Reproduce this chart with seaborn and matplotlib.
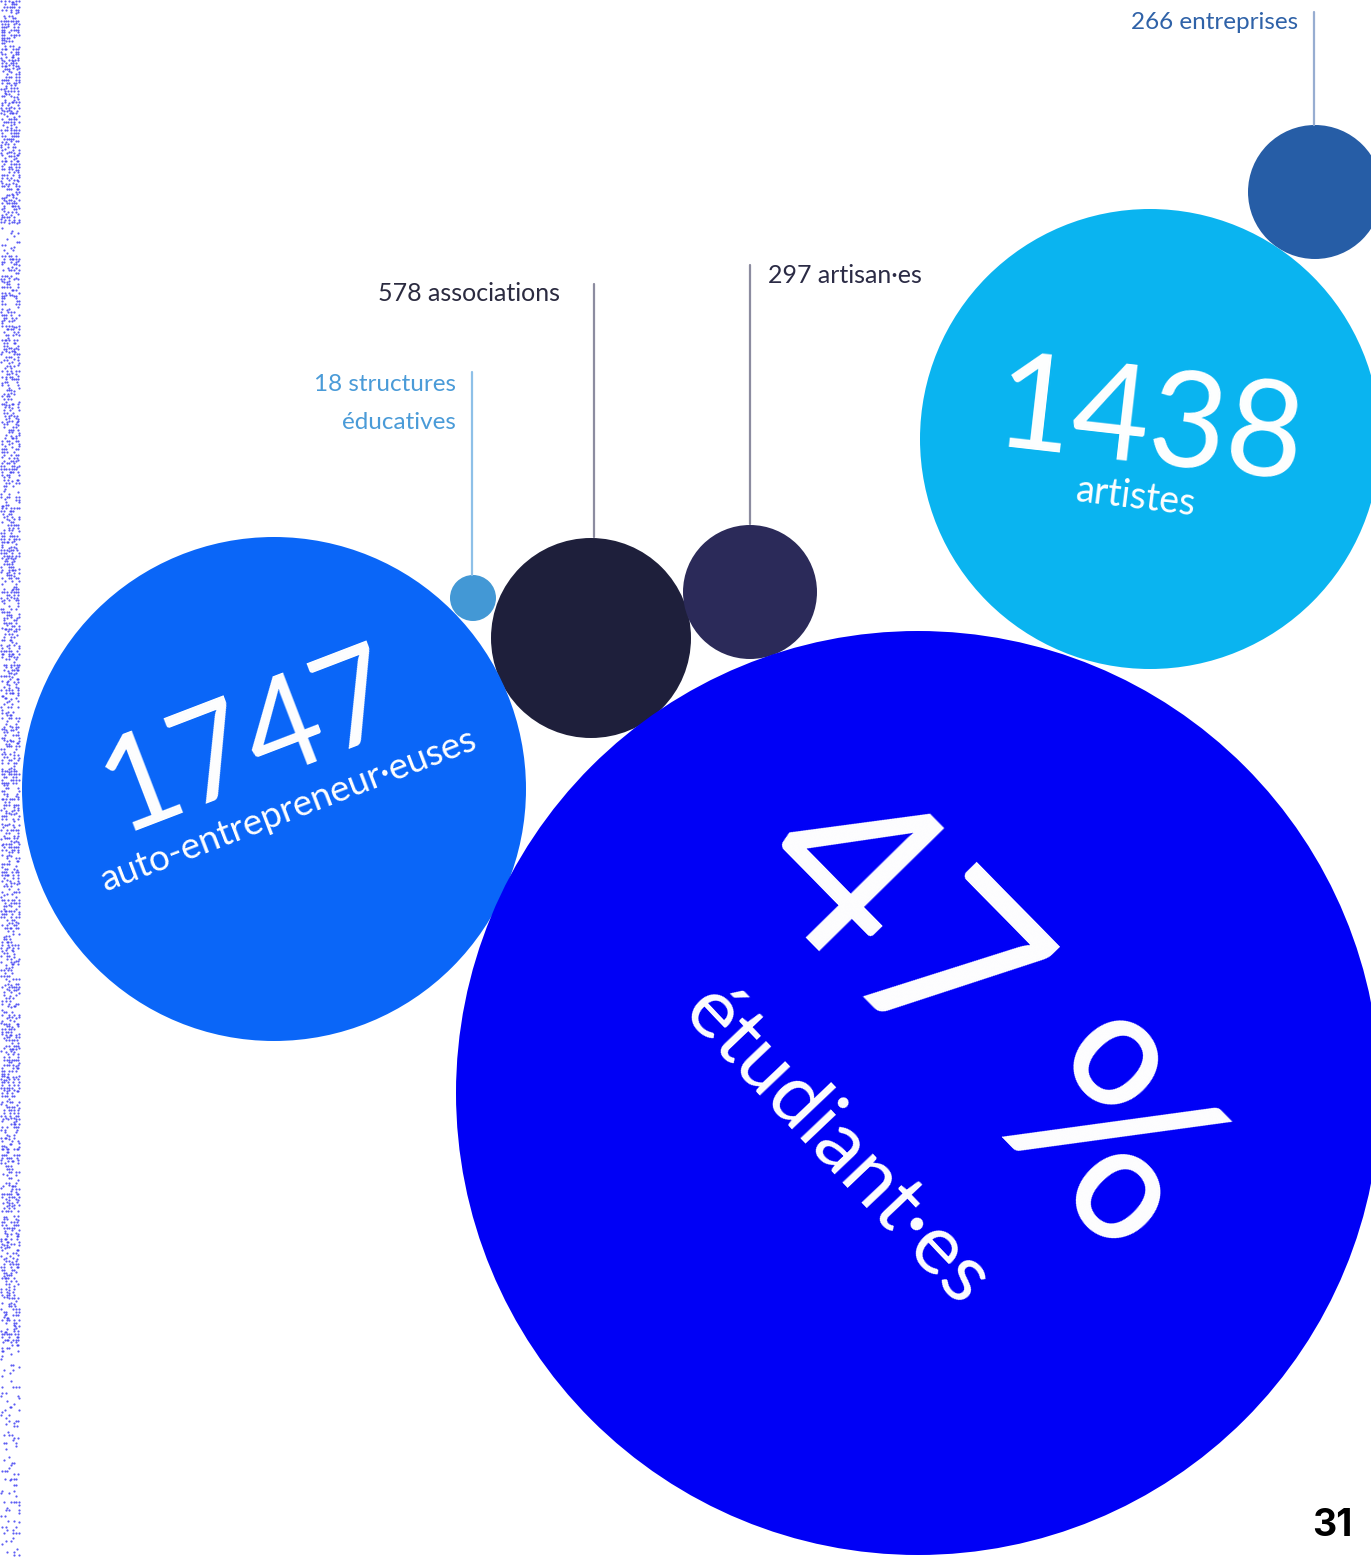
#!/usr/bin/env python3

# import libraries
import numpy as np
import matplotlib.pyplot as plt
import pandas as pd
import seaborn as sns

# values
categories = ['entreprises', 'artistes', 'associations', 'artisan·es',
              'structures éducatives', 'auto-entrepreneur·euses', 'étudiant·es']
counts = [266, 1438, 578, 297, 18, 1747]
student_share = 47
page_number = 31

# bubble layout, in pixels of the page
bubble_x = [1315, 1150, 591, 750, 473, 274, 918]
bubble_y = [192, 439, 638, 592, 598, 789, 1093]
bubble_r = [67, 230, 100, 67, 23, 252, 462]
bubble_colors = ['#265DA6', '#0AB4F0', '#1E1F3B', '#2B2A59',
                 '#4398D5', '#0A66F8', '#0000F6']

sns.set_style('white')
plt.rcParams['font.family'] = ['Lato', 'DejaVu Sans']

W, H = 1371, 1557
fig = plt.figure(figsize=(W / 100, H / 100), dpi=100)
ax = fig.add_axes([0, 0, 1, 1])

bubbles = pd.DataFrame({'cat': categories, 'x': bubble_x, 'y': bubble_y})
# marker diameter in points = 2 * r px * 0.72
sizes = {c: (2 * r * 0.72) ** 2 for c, r in zip(categories, bubble_r)}
sns.scatterplot(data=bubbles, x='x', y='y', hue='cat', size='cat',
                palette=dict(zip(categories, bubble_colors)), sizes=sizes,
                legend=False, linewidth=0, alpha=1, ax=ax)

# dotted strip on the left edge (decoration only)
gx, gy = np.meshgrid(np.arange(1, 18, 2.4), np.arange(1, H, 2.8))
h1 = np.modf(np.abs(np.sin(gx * 12.9898 + gy * 78.233)) * 43758.5453)[0]
h2 = np.modf(np.abs(np.sin(gx * 39.346 + gy * 11.135)) * 24634.6345)[0]
dens = np.where(gy < 225, 0.6, np.where(gy < 255, 0.15,
                np.where(gy < 1340, 0.5, 0.18)))
keep = h1 < dens
ax.scatter(gx[keep] + h2[keep] * 1.5, gy[keep] + h1[keep] * 1.5, s=2.5,
           color='#3535f0', linewidths=0, alpha=0.8)

# leader lines + small labels
ax.plot([1314, 1314], [12, 125], color='#97ADD1', lw=1.6)
ax.text(1298, 22, f'{counts[0]} entreprises', color='#2F62A8', fontsize=17.5,
        ha='right', va='center')

ax.plot([594, 594], [284, 537], color='#8C8CA0', lw=1.6)
ax.text(560, 293, f'{counts[2]} associations', color='#2B2B40', fontsize=18,
        ha='right', va='center')

ax.plot([750, 750], [265, 524], color='#8C8CA0', lw=1.6)
ax.text(768, 275, f'{counts[3]} artisan·es', color='#2B2B45', fontsize=18,
        ha='left', va='center')

ax.plot([472, 472], [372, 575], color='#8EC0E8', lw=1.6)
ax.text(456, 384, f'{counts[4]} structures', color='#4A9BD8', fontsize=17.5,
        ha='right', va='center')
ax.text(456, 422, 'éducatives', color='#4A9BD8', fontsize=17.5,
        ha='right', va='center')

# big numbers inside the bubbles
ax.text(262, 778, f'{counts[5]}', color='white', fontsize=95, rotation=21,
        ha='center', va='baseline', rotation_mode='anchor')
ax.text(292, 820, 'auto-entrepreneur·euses', color='white', fontsize=26.5,
        rotation=21, ha='center', va='baseline', rotation_mode='anchor')

ax.text(1145, 464, f'{counts[1]}', color='white', fontsize=96, rotation=-6.5,
        ha='center', va='baseline', rotation_mode='anchor')
ax.text(1135, 508, 'artistes', color='white', fontsize=27, rotation=-7,
        ha='center', va='baseline', rotation_mode='anchor')

ax.text(933, 1067, f'{student_share} %', color='white', fontsize=176,
        rotation=-45.5, ha='center', va='baseline', rotation_mode='anchor')
ax.text(820, 1162, 'étudiant·es', color='white', fontsize=60, rotation=-46.5,
        ha='center', va='baseline', rotation_mode='anchor')

ax.text(1353, 1536, f'{page_number}', color='black', fontsize=27,
        fontweight='bold', family=['Inter', 'DejaVu Sans'],
        ha='right', va='baseline')

ax.set_xlim(0, W)
ax.set_ylim(H, 0)
ax.axis('off')

plt.savefig('out.png', dpi=100)
